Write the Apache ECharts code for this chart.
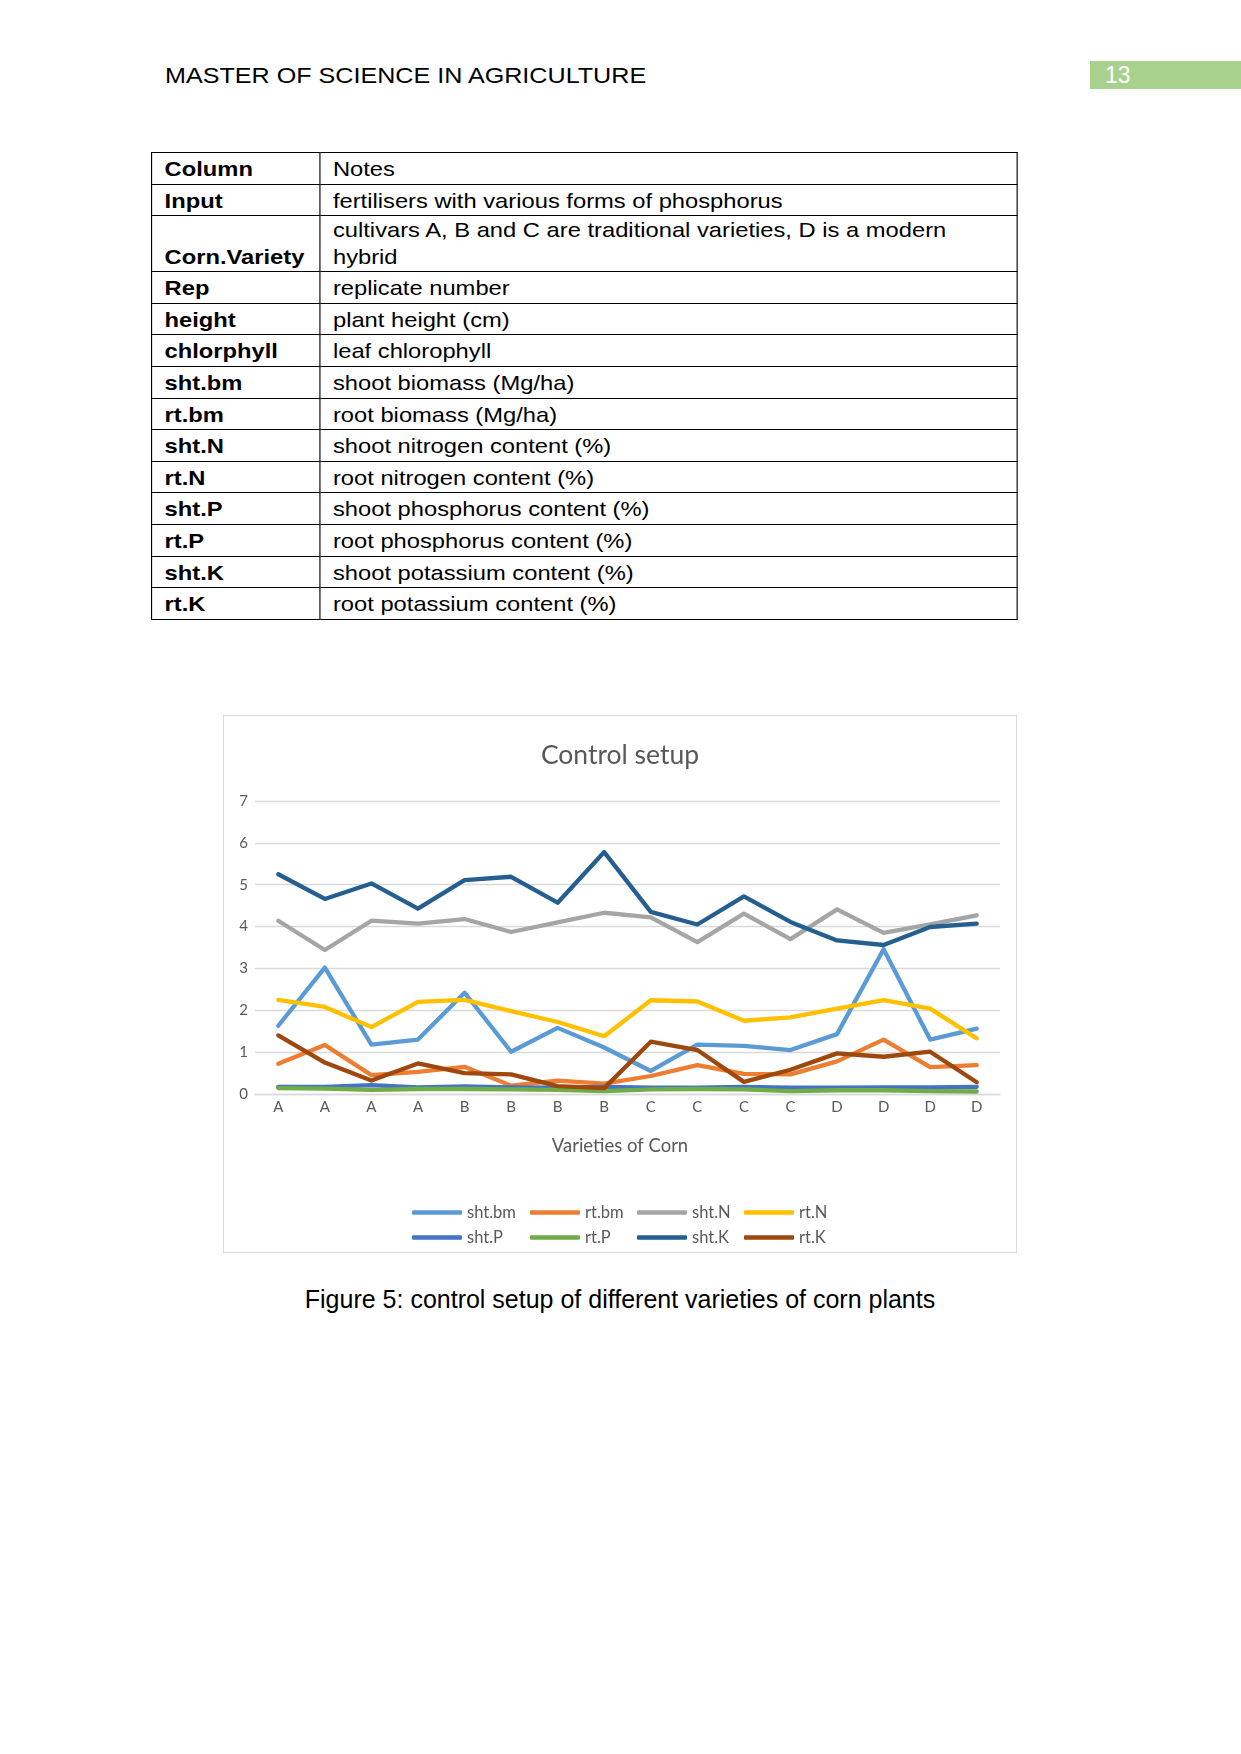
<!DOCTYPE html>
<html><head><meta charset="utf-8">
<script src="https://cdn.jsdelivr.net/npm/echarts@6/dist/echarts.min.js"></script>
<style>
html,body{margin:0;padding:0;background:#fff;}
body{width:1241px;height:1754px;position:relative;overflow:hidden;font-family:"Liberation Sans",Arial,sans-serif;color:#000;}
#hdr{position:absolute;left:165px;top:63px;font-size:22px;line-height:26px;transform:scaleX(1.142);transform-origin:left top;white-space:nowrap;}
#pg{position:absolute;left:1090px;top:61px;width:151px;height:28px;background:#a9d18e;color:#fff;font-size:23px;line-height:28px;}
#pg span{position:absolute;left:15px;top:0;}
#tblwrap{position:absolute;left:151px;top:152px;transform:scaleX(1.13);transform-origin:left top;}
table{border-collapse:collapse;width:767px;font-size:21px;}
td{border:1px solid #000;padding:2px 8px 1.6px 11px;vertical-align:bottom;line-height:27px;}
tr.dbl td{padding-top:0;padding-bottom:1px;}
td.k{font-weight:bold;width:129px;}
#chart{position:absolute;left:223px;top:715px;width:794px;height:538px;border:1px solid #d9d9d9;box-sizing:border-box;}
#cap{position:absolute;left:0;width:1240px;top:1285px;text-align:center;font-size:25px;line-height:28px;white-space:nowrap;}
</style></head>
<body>
<div id="hdr">MASTER OF SCIENCE IN AGRICULTURE</div>
<div id="pg"><span>13</span></div>
<div id="tblwrap">
<table>
<tr><td class="k">Column</td><td>Notes</td></tr>
<tr><td class="k">Input</td><td>fertilisers with various forms of phosphorus</td></tr>
<tr class="dbl"><td class="k">Corn.Variety</td><td>cultivars A, B and C are traditional varieties, D is a modern<br>hybrid</td></tr>
<tr><td class="k">Rep</td><td>replicate number</td></tr>
<tr><td class="k">height</td><td>plant height (cm)</td></tr>
<tr><td class="k">chlorphyll</td><td>leaf chlorophyll</td></tr>
<tr><td class="k">sht.bm</td><td>shoot biomass (Mg/ha)</td></tr>
<tr><td class="k">rt.bm</td><td>root biomass (Mg/ha)</td></tr>
<tr><td class="k">sht.N</td><td>shoot nitrogen content (%)</td></tr>
<tr><td class="k">rt.N</td><td>root nitrogen content (%)</td></tr>
<tr><td class="k">sht.P</td><td>shoot phosphorus content (%)</td></tr>
<tr><td class="k">rt.P</td><td>root phosphorus content (%)</td></tr>
<tr><td class="k">sht.K</td><td>shoot potassium content (%)</td></tr>
<tr><td class="k">rt.K</td><td>root potassium content (%)</td></tr>
</table>
</div>
<div id="chart"></div>
<div id="cap">Figure 5: control setup of different varieties of corn plants</div>
<script>
const categories = ['A','A','A','A','B','B','B','B','C','C','C','C','D','D','D','D'];
const seriesNames = ['sht.bm','rt.bm','sht.N','rt.N','sht.P','rt.P','sht.K','rt.K'];
const shtBm = [1.63, 3.02, 1.18, 1.30, 2.42, 1.01, 1.58, 1.11, 0.55, 1.18, 1.15, 1.05, 1.43, 3.46, 1.30, 1.56];
const rtBm  = [0.72, 1.17, 0.45, 0.53, 0.65, 0.20, 0.32, 0.25, 0.43, 0.69, 0.48, 0.47, 0.78, 1.30, 0.64, 0.69];
const shtN  = [4.14, 3.44, 4.14, 4.07, 4.18, 3.87, 4.10, 4.33, 4.22, 3.63, 4.31, 3.70, 4.41, 3.85, 4.05, 4.27];
const rtN   = [2.25, 2.08, 1.60, 2.20, 2.25, 1.98, 1.72, 1.38, 2.24, 2.21, 1.75, 1.83, 2.04, 2.24, 2.04, 1.33];
const shtP  = [0.17, 0.17, 0.21, 0.16, 0.18, 0.16, 0.15, 0.17, 0.15, 0.15, 0.17, 0.15, 0.15, 0.16, 0.16, 0.17];
const rtP   = [0.14, 0.13, 0.10, 0.12, 0.12, 0.11, 0.10, 0.07, 0.11, 0.12, 0.11, 0.07, 0.09, 0.09, 0.07, 0.06];
const shtK  = [5.25, 4.66, 5.03, 4.43, 5.11, 5.19, 4.57, 5.78, 4.35, 4.05, 4.72, 4.11, 3.67, 3.56, 3.99, 4.07];
const rtK   = [1.40, 0.75, 0.32, 0.73, 0.50, 0.47, 0.19, 0.14, 1.25, 1.05, 0.29, 0.58, 0.97, 0.89, 1.01, 0.28];
const yMin = 0, yMax = 7, yStep = 1;
const colors = ['#5B9BD5','#ED7D31','#A5A5A5','#FFC000','#4472C4','#70AD47','#255E91','#9E480E'];
const values = [shtBm, rtBm, shtN, rtN, shtP, rtP, shtK, rtK];

const chart = echarts.init(document.getElementById('chart'), null, {renderer:'canvas'});
const txt = '#595959';
const font = 'Lato, "Open Sans", sans-serif';
const legendLefts = [183, 301, 408, 515];
const legendTops = [483, 508];
chart.setOption({
  animation:false,
  color: colors,
  title:[
    {text:'Control setup', left:'center', top:21,
     textStyle:{fontFamily:font, fontSize:26.5, fontWeight:'normal', color:txt}},
    {text:'Varieties of Corn', left:'center', top:416,
     textStyle:{fontFamily:font, fontSize:18.5, fontWeight:'normal', color:txt}}
  ],
  grid:{left:31, right:16, top:85, bottom:158},
  legend: seriesNames.map((n,i)=>({
    data:[n],
    left:legendLefts[i%4], top:legendTops[Math.floor(i/4)],
    icon:'roundRect', itemWidth:50, itemHeight:4.5, itemTextGap:4,
    textStyle:{fontFamily:font, fontSize:16.5, lineHeight:17, color:txt},
    selectedMode:false
  })),
  xAxis:{type:'category', data:categories, boundaryGap:true,
    axisLine:{show:true, lineStyle:{color:'#d9d9d9', width:1.3}},
    axisTick:{show:false},
    axisLabel:{interval:0, margin:6, fontFamily:font, fontSize:15, color:txt}},
  yAxis:{type:'value', min:yMin, max:yMax, interval:yStep,
    axisLine:{show:false}, axisTick:{show:false},
    axisLabel:{margin:7, fontFamily:font, fontSize:15, color:txt},
    splitLine:{lineStyle:{color:'#d9d9d9', width:1.3}}},
  series: seriesNames.map((n,i)=>({
    name:n, type:'line', data:values[i], symbol:'none',
    lineStyle:{width:4.3, color:colors[i], cap:'round', join:'round'},
    itemStyle:{color:colors[i]}
  }))
});
</script>
</body></html>
